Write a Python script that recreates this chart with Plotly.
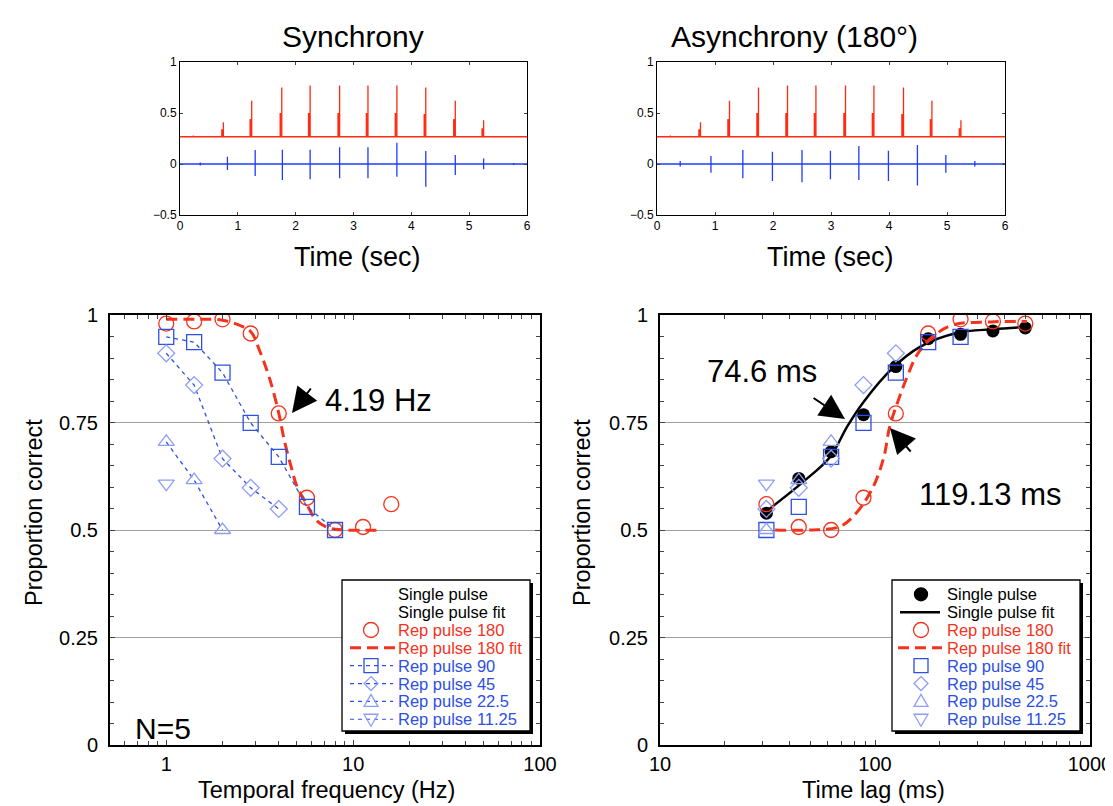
import plotly.graph_objects as go

W, H = 1113, 806
OFF = 8  # the page body margin shifts the figure by 8 px
FW, FH = W - OFF, H - OFF
FONT = "Liberation Sans, Arial, Helvetica, sans-serif"

# ---------------- Top waveforms ----------------
RED_BASE = 0.267
SYNC_RED_T = [0.23, 0.75, 1.24, 1.76, 2.25, 2.76, 3.25, 3.75, 4.25, 4.76, 5.25]
ASYNC_RED_T = [0.23, 0.75, 1.25, 1.75, 2.25, 2.74, 3.25, 3.74, 4.25, 4.74, 5.24]
RED_PEAK = [0.28, 0.41, 0.62, 0.75, 0.77, 0.77, 0.77, 0.77, 0.75, 0.62, 0.43]
RED_MID = [0.27, 0.34, 0.44, 0.50, 0.50, 0.50, 0.50, 0.50, 0.49, 0.44, 0.35]

SYNC_BLUE_T = [0.35, 0.82, 1.30, 1.77, 2.25, 2.76, 3.25, 3.75, 4.25, 4.76, 5.25, 5.77]
SYNC_BLUE_UP = [0.015, 0.07, 0.137, 0.14, 0.14, 0.163, 0.163, 0.209, 0.127, 0.088, 0.055, 0.01]
SYNC_BLUE_DN = [-0.015, -0.06, -0.117, -0.157, -0.15, -0.14, -0.14, -0.124, -0.222, -0.108, -0.052, -0.01]

ASYNC_BLUE_T = [0.40, 0.93, 1.48, 1.99, 2.50, 2.99, 3.48, 3.99, 4.49, 4.98, 5.48, 5.98]
ASYNC_BLUE_UP = [0.03, 0.078, 0.137, 0.12, 0.137, 0.13, 0.176, 0.13, 0.186, 0.088, 0.03, 0.01]
ASYNC_BLUE_DN = [-0.025, -0.085, -0.14, -0.166, -0.18, -0.15, -0.157, -0.166, -0.21, -0.085, -0.025, -0.01]

# ---------------- Bottom panels ----------------
FREQ_180 = [1, 1.41, 2, 2.83, 4, 5.66, 8, 11.3, 16]
LAG_180 = [500, 353.6, 250, 176.8, 125, 88.4, 62.5, 44.2, 31.25]
P_180 = [0.98, 0.985, 0.99, 0.957, 0.771, 0.575, 0.5, 0.507, 0.56]

FREQ_90 = [1, 1.41, 2, 2.83, 4, 5.66, 8]
LAG_90 = [250, 176.8, 125, 88.4, 62.5, 44.2, 31.25]
P_90 = [0.949, 0.937, 0.866, 0.749, 0.67, 0.554, 0.5]

FREQ_45 = [1, 1.41, 2, 2.83, 4]
LAG_45 = [125, 88.4, 62.5, 44.2, 31.25]
P_45 = [0.911, 0.837, 0.666, 0.598, 0.549]

FREQ_22 = [1, 1.41, 2]
LAG_22 = [62.5, 44.2, 31.25]
P_22 = [0.705, 0.616, 0.5]

FREQ_11 = [1]
LAG_11 = [31.25]
P_11 = [0.608]

LAG_SINGLE = [31.25, 44.2, 62.5, 88.4, 125, 176.8, 250, 353.6, 500]
P_SINGLE = [0.539, 0.62, 0.682, 0.768, 0.88, 0.945, 0.955, 0.963, 0.97]

FIT180_HZ = [1, 1.5, 2, 2.5, 2.85, 3.14, 3.55, 4.0, 4.28, 4.66, 5.02, 5.6, 6.34, 7.4, 9, 14.3]
FIT180_HZ_P = [0.99, 0.99, 0.988, 0.975, 0.96, 0.92, 0.856, 0.772, 0.709, 0.647, 0.6, 0.563, 0.523, 0.505, 0.5, 0.5]

FIT180_MS = [34.3, 50, 68.7, 82, 98, 110, 117, 128, 141, 158, 186, 231, 344, 509]
FIT180_MS_P = [0.5, 0.5, 0.508, 0.54, 0.6, 0.67, 0.74, 0.80, 0.856, 0.91, 0.95, 0.977, 0.984, 0.985]

FITSINGLE_MS = [31.5, 46.3, 61.8, 74.1, 87.6, 121, 162, 240, 355, 500]
FITSINGLE_P = [0.545, 0.612, 0.67, 0.74, 0.795, 0.877, 0.926, 0.958, 0.967, 0.972]

LEGEND_LABELS = ["Single pulse", "Single pulse fit", "Rep pulse 180", "Rep pulse 180 fit",
                 "Rep pulse 90", "Rep pulse 45", "Rep pulse 22.5", "Rep pulse 11.25"]

RED = "#f4331c"
BLUE = "#2d4fe3"
LIGHT = "#8e9ef7"
WRED = "#ff2a10"
WBLUE = "#1f3cff"
LEGEND_COLORS = ["black", "black", RED, RED, BLUE, BLUE, BLUE, BLUE]


def px(x):
    return (x - OFF) / FW


def py(y):
    return 1 - (y - OFF) / FH


def wave_path(times, ups, downs, base):
    xs, ys = [0], [base]
    for t, u, d in zip(times, ups, downs):
        xs += [t, t, t, t]
        ys += [base, u, d, base]
    xs.append(6)
    ys.append(base)
    return xs, ys


def mid_path(times, mids, base, shift=-0.02):
    xs, ys = [], []
    for t, m in zip(times, mids):
        xs += [t + shift, t + shift, None]
        ys += [base, m, None]
    return xs, ys


fig = go.Figure()

# top waveforms
for xa, ya, rt, bt, bu, bd in [
    ("x", "y", SYNC_RED_T, SYNC_BLUE_T, SYNC_BLUE_UP, SYNC_BLUE_DN),
    ("x2", "y2", ASYNC_RED_T, ASYNC_BLUE_T, ASYNC_BLUE_UP, ASYNC_BLUE_DN),
]:
    bx, by = wave_path(bt, bu, bd, 0)
    fig.add_trace(go.Scatter(x=bx, y=by, mode="lines", line=dict(color=WBLUE, width=1.3),
                             xaxis=xa, yaxis=ya, showlegend=False, hoverinfo="skip"))
    rx, ry = wave_path(rt, RED_PEAK, [RED_BASE] * len(rt), RED_BASE)
    fig.add_trace(go.Scatter(x=rx, y=ry, mode="lines", line=dict(color=WRED, width=1.3),
                             xaxis=xa, yaxis=ya, showlegend=False, hoverinfo="skip"))
    mx, my = mid_path(rt, RED_MID, RED_BASE)
    fig.add_trace(go.Scatter(x=mx, y=my, mode="lines", line=dict(color=WRED, width=2.2),
                             xaxis=xa, yaxis=ya, showlegend=False, hoverinfo="skip"))

RED_DASH = "11px,6px"
BLUE_DASH = "4px,4px"

# ---- Bottom-left panel ----
fig.add_trace(go.Scatter(x=FIT180_HZ, y=FIT180_HZ_P, mode="lines", name="Rep pulse 180 fit",
                         line=dict(color=RED, width=3, dash=RED_DASH, shape="spline"),
                         xaxis="x3", yaxis="y3"))
fig.add_trace(go.Scatter(x=FREQ_180, y=P_180, mode="markers", name="Rep pulse 180",
                         marker=dict(symbol="circle-open", size=15, color=RED, line=dict(width=1.3)),
                         xaxis="x3", yaxis="y3"))
for fx, fy, nm, sym, mc, sz in [
    (FREQ_90, P_90, "Rep pulse 90", "square-open", BLUE, 15),
    (FREQ_45, P_45, "Rep pulse 45", "diamond-open", LIGHT, 13),
    (FREQ_22, P_22, "Rep pulse 22.5", "triangle-up-open", LIGHT, 14),
    (FREQ_11, P_11, "Rep pulse 11.25", "triangle-down-open", LIGHT, 14),
]:
    fig.add_trace(go.Scatter(x=fx, y=fy, mode="lines+markers", name=nm,
                             line=dict(color=BLUE, width=1.3, dash=BLUE_DASH),
                             marker=dict(symbol=sym, size=sz, color=mc, line=dict(width=1.3)),
                             xaxis="x3", yaxis="y3"))

# ---- Bottom-right panel ----
fig.add_trace(go.Scatter(x=LAG_SINGLE, y=P_SINGLE, mode="markers", name="Single pulse",
                         marker=dict(symbol="circle", size=13, color="black"),
                         xaxis="x4", yaxis="y4"))
fig.add_trace(go.Scatter(x=FITSINGLE_MS, y=FITSINGLE_P, mode="lines", name="Single pulse fit",
                         line=dict(color="black", width=2.5, shape="spline"),
                         xaxis="x4", yaxis="y4"))
fig.add_trace(go.Scatter(x=LAG_180, y=P_180, mode="markers", name="Rep pulse 180",
                         marker=dict(symbol="circle-open", size=15, color=RED, line=dict(width=1.3)),
                         xaxis="x4", yaxis="y4"))
fig.add_trace(go.Scatter(x=FIT180_MS, y=FIT180_MS_P, mode="lines", name="Rep pulse 180 fit",
                         line=dict(color=RED, width=3, dash=RED_DASH, shape="spline"),
                         xaxis="x4", yaxis="y4"))
for lx, ly, nm, sym, mc, sz in [
    (LAG_90, P_90, "Rep pulse 90", "square-open", BLUE, 15),
    (LAG_45, P_45, "Rep pulse 45", "diamond-open", LIGHT, 13),
    (LAG_22, P_22, "Rep pulse 22.5", "triangle-up-open", LIGHT, 14),
    (LAG_11, P_11, "Rep pulse 11.25", "triangle-down-open", LIGHT, 14),
]:
    fig.add_trace(go.Scatter(x=lx, y=ly, mode="markers", name=nm,
                             marker=dict(symbol=sym, size=sz, color=mc, line=dict(width=1.3)),
                             xaxis="x4", yaxis="y4"))

# ---------------- Axes ----------------
top_x = dict(range=[0, 6], dtick=1, ticks="inside", ticklen=3, showline=True, linecolor="black",
             linewidth=1, mirror="ticks", showgrid=False, zeroline=False,
             tickfont=dict(family=FONT, size=12, color="black"))
top_y = dict(range=[-0.5, 1], dtick=0.5, ticks="inside", ticklen=3, showline=True, linecolor="black",
             linewidth=1, mirror="ticks", showgrid=False, zeroline=False,
             tickfont=dict(family=FONT, size=12, color="black"))

bot_x = dict(type="log", dtick=1, ticks="inside", ticklen=5, showline=True, linecolor="black",
             linewidth=2, mirror="ticks", showgrid=False, zeroline=False,
             minor=dict(dtick="D1", ticks="inside", ticklen=4, showgrid=False),
             tickfont=dict(family=FONT, size=20, color="black"))
bot_y = dict(range=[0, 1], dtick=0.25, ticks="inside", ticklen=5, showline=True, linecolor="black",
             linewidth=2, mirror="ticks", showgrid=True, gridcolor="#a0a0a0", gridwidth=1,
             zeroline=False, ticklabelstandoff=6,
             minor=dict(dtick=0.05, ticks="inside", ticklen=4, showgrid=False),
             tickfont=dict(family=FONT, size=20, color="black"))

fig.update_layout(
    width=FW, height=FH, autosize=False,
    margin=dict(l=0, r=0, t=0, b=0, autoexpand=False),
    paper_bgcolor="white", plot_bgcolor="white",
    font=dict(family=FONT, color="black"),
    showlegend=False,
    xaxis=dict(top_x, domain=[px(180), px(527)], anchor="y"),
    yaxis=dict(top_y, domain=[py(215), py(62)], anchor="x"),
    xaxis2=dict(top_x, domain=[px(657), px(1005)], anchor="y2"),
    yaxis2=dict(top_y, domain=[py(215), py(62)], anchor="x2"),
    xaxis3=dict(bot_x, range=[-0.30103, 2], domain=[px(110), px(540)], anchor="y3"),
    yaxis3=dict(bot_y, domain=[py(745), py(315)], anchor="x3"),
    xaxis4=dict(bot_x, range=[1, 3], domain=[px(660), px(1090)], anchor="y4"),
    yaxis4=dict(bot_y, domain=[py(745), py(315)], anchor="x4"),
)

# ---------------- Legend boxes (drawn as layout shapes + text) ----------------
shapes = []
ann = []
ROW0, ROWSTEP = 594.3, 17.85


def pshape(**kw):
    d = dict(xref="paper", yref="paper", layer="above")
    d.update(kw)
    shapes.append(d)


def key_circle(cx, cy, r, color, filled=False):
    pshape(type="circle", x0=px(cx - r), x1=px(cx + r), y0=py(cy + r), y1=py(cy - r),
           line=dict(color=color, width=1.3), fillcolor=color if filled else "rgba(0,0,0,0)")


def key_poly(pts, color):
    path = "M" + " L".join(f"{px(a):.5f},{py(b):.5f}" for a, b in pts) + " Z"
    pshape(type="path", path=path, line=dict(color=color, width=1.3), fillcolor="rgba(0,0,0,0)")


def key_line(x0, x1, cy, color, width, dash):
    pshape(type="line", x0=px(x0), x1=px(x1), y0=py(cy), y1=py(cy),
           line=dict(color=color, width=width, dash=dash))


def key_marker(kind, cx, cy, color):
    if kind == "square":
        key_poly([(cx - 7, cy - 7), (cx + 7, cy - 7), (cx + 7, cy + 7), (cx - 7, cy + 7)], color)
    elif kind == "diamond":
        key_poly([(cx, cy - 7), (cx + 7, cy), (cx, cy + 7), (cx - 7, cy)], color)
    elif kind == "up":
        key_poly([(cx, cy - 7), (cx + 7, cy + 5), (cx - 7, cy + 5)], color)
    elif kind == "down":
        key_poly([(cx, cy + 7), (cx + 7, cy - 5), (cx - 7, cy - 5)], color)


def legend_box(left, right, top, bottom, textx, keyx, keyl, keyr, with_single, with_lines):
    pshape(type="rect", x0=px(left + 3), x1=px(right + 3), y0=py(bottom + 3), y1=py(top + 3),
           fillcolor="black", line=dict(width=0))
    pshape(type="rect", x0=px(left), x1=px(right), y0=py(bottom), y1=py(top),
           fillcolor="white", line=dict(color="black", width=1.3))
    rows = [ROW0 + i * ROWSTEP for i in range(len(LEGEND_LABELS))]
    if with_single:
        key_circle(keyx, rows[0], 6.5, "black", filled=True)
        key_line(keyl + 2, keyr, rows[1], "black", 2.5, "solid")
    key_circle(keyx, rows[2], 7.5, RED)
    key_line(keyl, keyr + 2, rows[3], RED, 3, RED_DASH)
    for i, kind in zip(range(4, 8), ["square", "diamond", "up", "down"]):
        if with_lines:
            key_line(keyl, keyr, rows[i], BLUE, 1.2, BLUE_DASH)
        key_marker(kind, keyx, rows[i], BLUE if kind == "square" else LIGHT)
    for lab, col, yy in zip(LEGEND_LABELS, LEGEND_COLORS, rows):
        ann.append(dict(text=lab, x=px(textx), y=py(yy), xref="paper", yref="paper",
                        showarrow=False, xanchor="left", yanchor="middle",
                        font=dict(family=FONT, size=16.5, color=col)))


legend_box(342, 530, 580, 731, 396, 371, 350, 393, False, True)
legend_box(892, 1080, 580, 731, 945, 921, 898, 940, True, False)


def text(t, x, y, size, angle=0):
    ann.append(dict(text=t, x=px(x), y=py(y), xref="paper", yref="paper", showarrow=False,
                    xanchor="center", yanchor="middle", textangle=angle,
                    font=dict(family=FONT, size=size, color="black")))


text("Synchrony", 353, 37, 30)
text("Asynchrony (180°)", 794, 37, 30)
text("Time (sec)", 357, 257, 27)
text("Time (sec)", 830, 257, 27)
text("Proportion correct", 34, 513, 23.5, -90)
text("Proportion correct", 582, 513, 23.5, -90)
text("Temporal frequency (Hz)", 327, 790, 23.5)
text("Time lag (ms)", 873, 790, 23.5)
text("4.19 Hz", 378, 400, 31)
text("74.6 ms", 762, 371, 31)
text("119.13 ms", 990, 494, 31)
text("N=5", 163, 728, 30)


def arrow(tipx, tipy, tailx, taily):
    ann.append(dict(text="", x=px(tipx), y=py(tipy), xref="paper", yref="paper", showarrow=True,
                    ax=tailx - tipx, ay=taily - tipy, arrowhead=2, arrowsize=2.5, arrowwidth=2,
                    arrowcolor="black", standoff=0, startstandoff=0))


arrow(292, 413, 312, 387)
arrow(845, 419, 812, 397)
arrow(890, 428, 912, 453)

fig.update_layout(shapes=shapes, annotations=ann)

fig.write_html("out.html")
